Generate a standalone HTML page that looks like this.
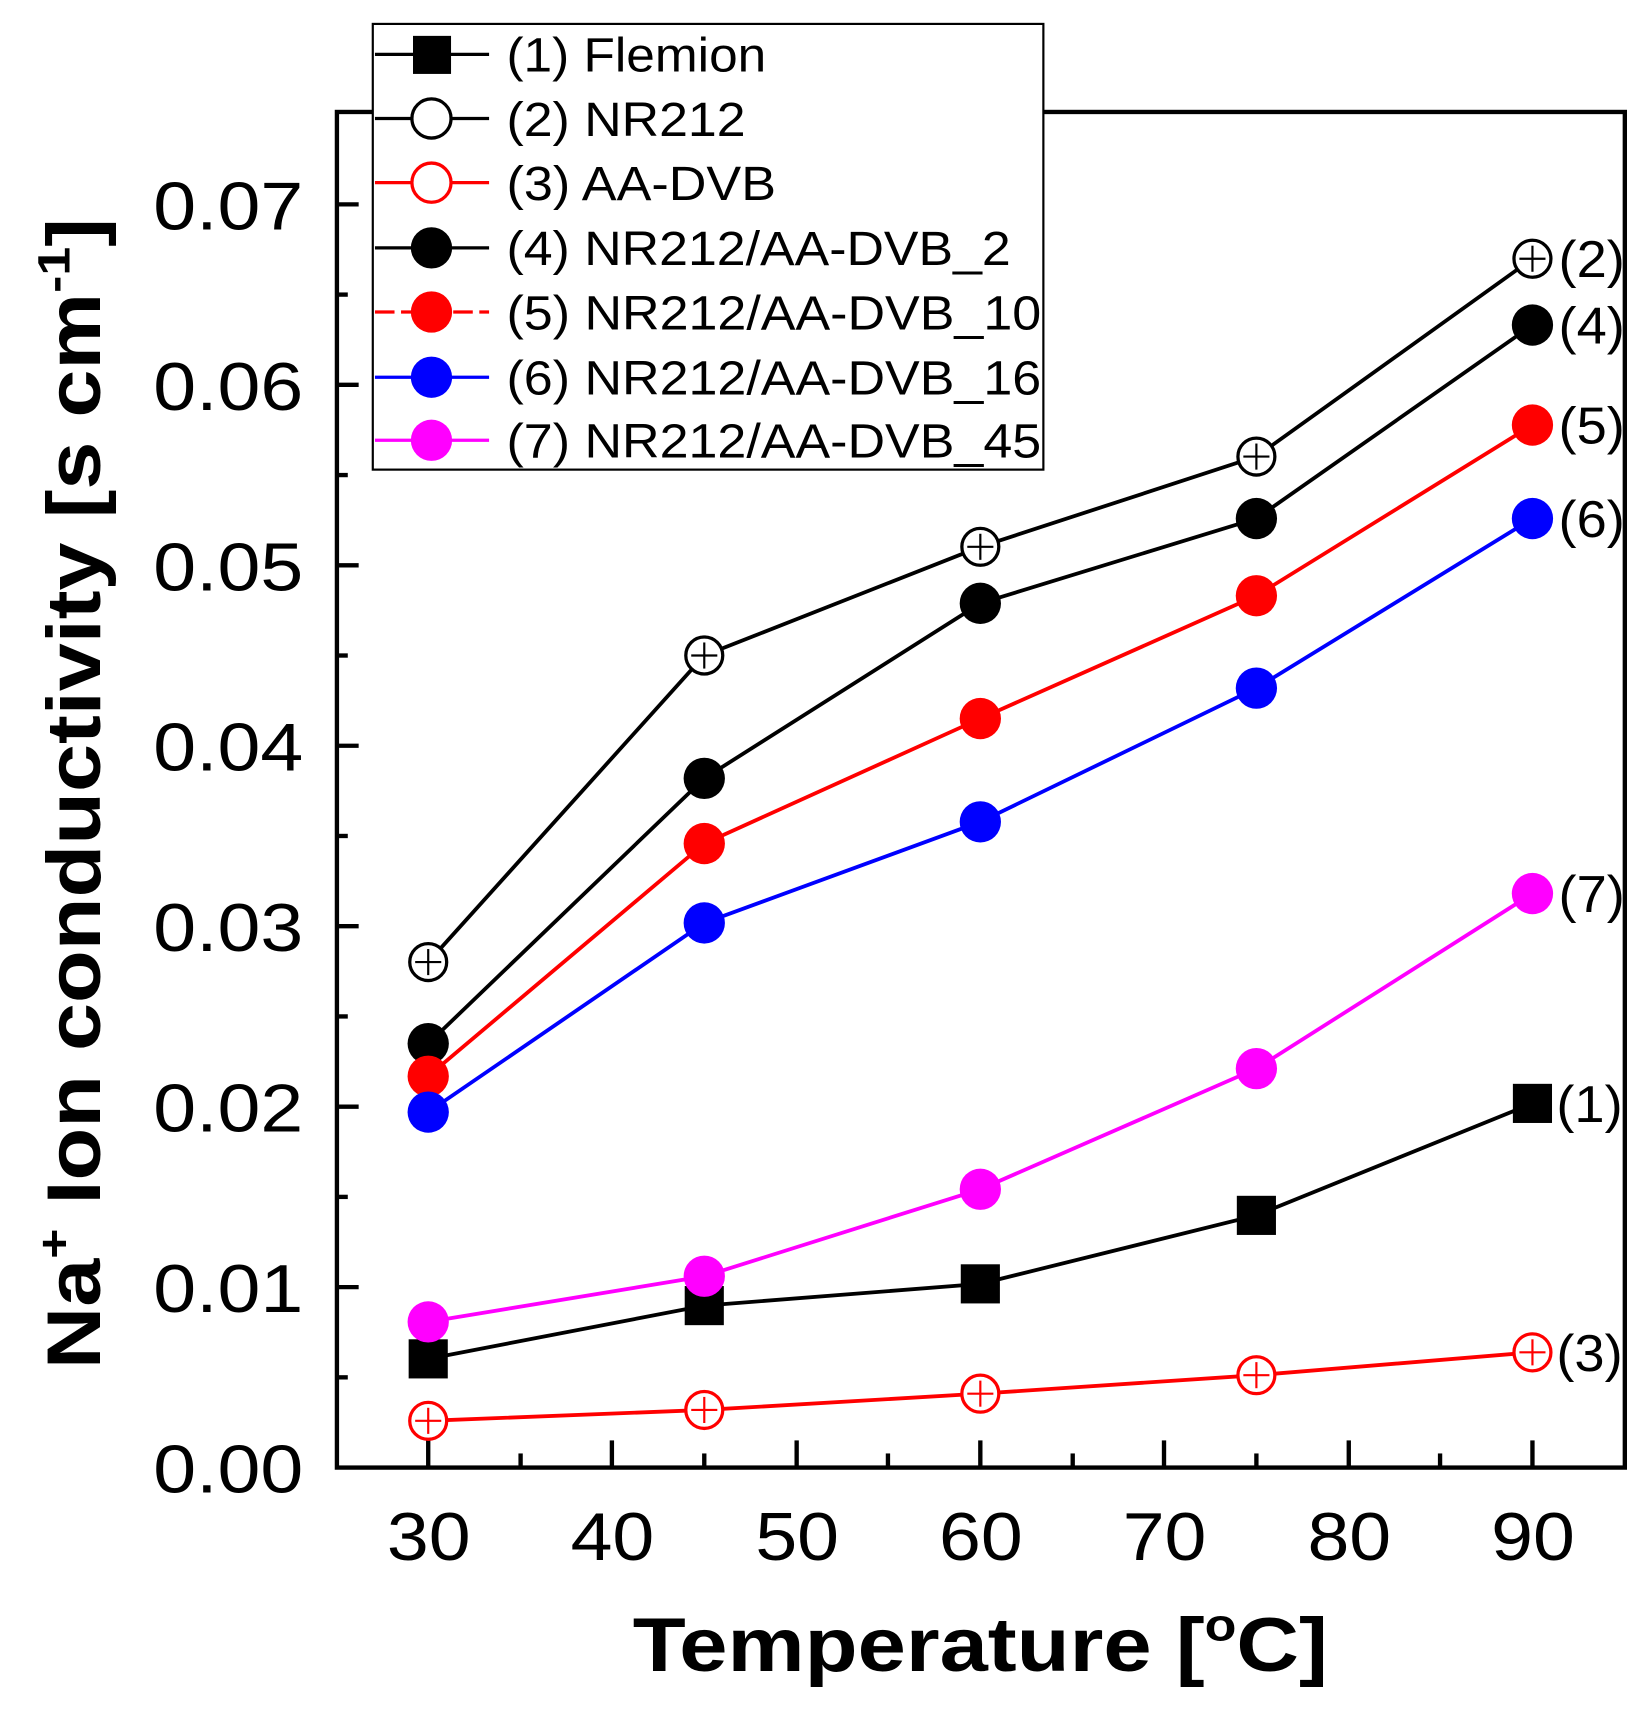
<!DOCTYPE html>
<html><head><meta charset="utf-8"><style>html,body{margin:0;padding:0;background:#fff}svg{display:block}</style></head>
<body>
<svg width="1652" height="1710" viewBox="0 0 1520 1573" preserveAspectRatio="none" xmlns="http://www.w3.org/2000/svg" font-family="'Liberation Sans', Arial, sans-serif">
<defs>
<g id="oc"><circle r="17" fill="#fff" stroke-width="3"/><line x1="-12" y1="0" x2="12" y2="0" stroke-width="2"/><line x1="0" y1="-12" x2="0" y2="12" stroke-width="2"/></g>
</defs>
<rect x="310" y="103" width="1185" height="1247" fill="none" stroke="#000" stroke-width="4"/>
<g stroke="#000" stroke-width="4">
<line x1="310" y1="1184" x2="330" y2="1184"/><line x1="310" y1="1018" x2="330" y2="1018"/><line x1="310" y1="852" x2="330" y2="852"/><line x1="310" y1="686" x2="330" y2="686"/><line x1="310" y1="520" x2="330" y2="520"/><line x1="310" y1="354" x2="330" y2="354"/><line x1="310" y1="188" x2="330" y2="188"/>
<line x1="310" y1="1267" x2="320" y2="1267"/><line x1="310" y1="1101" x2="320" y2="1101"/><line x1="310" y1="935" x2="320" y2="935"/><line x1="310" y1="769" x2="320" y2="769"/><line x1="310" y1="603" x2="320" y2="603"/><line x1="310" y1="437" x2="320" y2="437"/><line x1="310" y1="271" x2="320" y2="271"/>
<line x1="394" y1="1350" x2="394" y2="1325"/><line x1="563" y1="1350" x2="563" y2="1325"/><line x1="733" y1="1350" x2="733" y2="1325"/><line x1="902" y1="1350" x2="902" y2="1325"/><line x1="1071" y1="1350" x2="1071" y2="1325"/><line x1="1241" y1="1350" x2="1241" y2="1325"/><line x1="1410" y1="1350" x2="1410" y2="1325"/>
<line x1="479" y1="1350" x2="479" y2="1337"/><line x1="648" y1="1350" x2="648" y2="1337"/><line x1="817" y1="1350" x2="817" y2="1337"/><line x1="987" y1="1350" x2="987" y2="1337"/><line x1="1156" y1="1350" x2="1156" y2="1337"/><line x1="1325" y1="1350" x2="1325" y2="1337"/>
</g>
<g font-size="62" fill="#000">
<text x="141" y="1373" textLength="138" lengthAdjust="spacingAndGlyphs">0.00</text><text x="141" y="1207" textLength="138" lengthAdjust="spacingAndGlyphs">0.01</text><text x="141" y="1041" textLength="138" lengthAdjust="spacingAndGlyphs">0.02</text><text x="141" y="875" textLength="138" lengthAdjust="spacingAndGlyphs">0.03</text><text x="141" y="709" textLength="138" lengthAdjust="spacingAndGlyphs">0.04</text><text x="141" y="543" textLength="138" lengthAdjust="spacingAndGlyphs">0.05</text><text x="141" y="377" textLength="138" lengthAdjust="spacingAndGlyphs">0.06</text><text x="141" y="211" textLength="138" lengthAdjust="spacingAndGlyphs">0.07</text>
</g>
<g font-size="62">
<text x="356" y="1435" textLength="77" lengthAdjust="spacingAndGlyphs">30</text><text x="525" y="1435" textLength="77" lengthAdjust="spacingAndGlyphs">40</text><text x="695" y="1435" textLength="77" lengthAdjust="spacingAndGlyphs">50</text><text x="864" y="1435" textLength="77" lengthAdjust="spacingAndGlyphs">60</text><text x="1033" y="1435" textLength="77" lengthAdjust="spacingAndGlyphs">70</text><text x="1203" y="1435" textLength="77" lengthAdjust="spacingAndGlyphs">80</text><text x="1372" y="1435" textLength="77" lengthAdjust="spacingAndGlyphs">90</text>
</g>
<text transform="translate(902,1537) scale(1.14,1)" font-size="70" font-weight="bold" text-anchor="middle">Temperature [<tspan font-size="42" dy="-28">o</tspan><tspan dy="28">C]</tspan></text>
<text transform="translate(92,730) rotate(-90) scale(1.135,1)" font-size="70" font-weight="bold" text-anchor="middle">Na<tspan font-size="42" dy="-28">+</tspan><tspan dy="28"> Ion conductivity [s cm</tspan><tspan font-size="42" dy="-28">-1</tspan><tspan dy="28">]</tspan></text>
<g fill="none" stroke-width="3.5">
<polyline stroke="#000" points="394,1250 648,1201 902,1181 1156,1118 1410,1015"/>
<polyline stroke="#000" points="394,885 648,603 902,503 1156,420 1410,238"/>
<polyline stroke="#f00" points="394,1307 648,1297 902,1282 1156,1265 1410,1244"/>
<polyline stroke="#000" points="394,960 648,716 902,555 1156,477 1410,299"/>
<polyline stroke="#f00" points="394,990 648,776 902,661 1156,548 1410,391"/>
<polyline stroke="#00f" points="394,1023 648,849 902,756 1156,633 1410,477"/>
<polyline stroke="#f0f" points="394,1216 648,1174 902,1094 1156,983 1410,822"/>
</g>
<g fill="#000"><rect x="376" y="1232" width="36" height="36"/><rect x="630" y="1183" width="36" height="36"/><rect x="884" y="1163" width="36" height="36"/><rect x="1138" y="1100" width="36" height="36"/><rect x="1392" y="997" width="36" height="36"/></g>
<g stroke="#000"><use href="#oc" x="394" y="885"/><use href="#oc" x="648" y="603"/><use href="#oc" x="902" y="503"/><use href="#oc" x="1156" y="420"/><use href="#oc" x="1410" y="238"/></g>
<g stroke="#f00"><use href="#oc" x="394" y="1307"/><use href="#oc" x="648" y="1297"/><use href="#oc" x="902" y="1282"/><use href="#oc" x="1156" y="1265"/><use href="#oc" x="1410" y="1244"/></g>
<g fill="#000"><circle cx="394" cy="960" r="19"/><circle cx="648" cy="716" r="19"/><circle cx="902" cy="555" r="19"/><circle cx="1156" cy="477" r="19"/><circle cx="1410" cy="299" r="19"/></g>
<g fill="#f00"><circle cx="394" cy="990" r="19"/><circle cx="648" cy="776" r="19"/><circle cx="902" cy="661" r="19"/><circle cx="1156" cy="548" r="19"/><circle cx="1410" cy="391" r="19"/></g>
<g fill="#00f"><circle cx="394" cy="1023" r="19"/><circle cx="648" cy="849" r="19"/><circle cx="902" cy="756" r="19"/><circle cx="1156" cy="633" r="19"/><circle cx="1410" cy="477" r="19"/></g>
<g fill="#f0f"><circle cx="394" cy="1216" r="19"/><circle cx="648" cy="1174" r="19"/><circle cx="902" cy="1094" r="19"/><circle cx="1156" cy="983" r="19"/><circle cx="1410" cy="822" r="19"/></g>
<g font-size="48">
<text x="1432" y="1032" textLength="61" lengthAdjust="spacingAndGlyphs">(1)</text><text x="1434" y="255" textLength="61" lengthAdjust="spacingAndGlyphs">(2)</text><text x="1432" y="1261" textLength="61" lengthAdjust="spacingAndGlyphs">(3)</text><text x="1434" y="316" textLength="61" lengthAdjust="spacingAndGlyphs">(4)</text><text x="1434" y="408" textLength="61" lengthAdjust="spacingAndGlyphs">(5)</text><text x="1434" y="494" textLength="61" lengthAdjust="spacingAndGlyphs">(6)</text><text x="1434" y="839" textLength="61" lengthAdjust="spacingAndGlyphs">(7)</text>
</g>
<rect x="343" y="22" width="617" height="410" fill="#fff" stroke="#000" stroke-width="2"/>
<g stroke-width="3">
<line x1="345" y1="50" x2="450" y2="50" stroke="#000"/>
<line x1="345" y1="109" x2="450" y2="109" stroke="#000"/>
<line x1="345" y1="168" x2="450" y2="168" stroke="#f00"/>
<line x1="345" y1="228" x2="450" y2="228" stroke="#000"/>
<line x1="345" y1="287" x2="450" y2="287" stroke="#f00" stroke-dasharray="18,6"/>
<line x1="345" y1="347" x2="450" y2="347" stroke="#00f"/>
<line x1="345" y1="405" x2="450" y2="405" stroke="#f0f"/>
</g>
<rect x="380" y="33" width="35" height="35" fill="#000"/>
<circle cx="397" cy="109" r="18" fill="#fff" stroke="#000" stroke-width="3"/>
<circle cx="397" cy="168" r="18" fill="#fff" stroke="#f00" stroke-width="3"/>
<circle cx="397" cy="228" r="19" fill="#000"/>
<circle cx="397" cy="287" r="19" fill="#f00"/>
<circle cx="397" cy="347" r="19" fill="#00f"/>
<circle cx="397" cy="405" r="19" fill="#f0f"/>
<g font-size="44">
<text x="466" y="66" textLength="239" lengthAdjust="spacingAndGlyphs">(1) Flemion</text>
<text x="466" y="125" textLength="220" lengthAdjust="spacingAndGlyphs">(2) NR212</text>
<text x="466" y="184" textLength="248" lengthAdjust="spacingAndGlyphs">(3) AA-DVB</text>
<text x="466" y="244" textLength="464" lengthAdjust="spacingAndGlyphs">(4) NR212/AA-DVB_2</text>
<text x="466" y="303" textLength="492" lengthAdjust="spacingAndGlyphs">(5) NR212/AA-DVB_10</text>
<text x="466" y="363" textLength="492" lengthAdjust="spacingAndGlyphs">(6) NR212/AA-DVB_16</text>
<text x="466" y="421" textLength="492" lengthAdjust="spacingAndGlyphs">(7) NR212/AA-DVB_45</text>
</g>
</svg>
</body></html>
